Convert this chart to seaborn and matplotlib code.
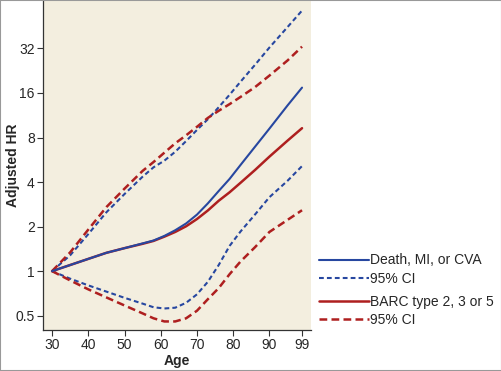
import pandas as pd
import seaborn as sns
import matplotlib.pyplot as plt
from matplotlib.lines import Line2D

ages = [30, 35, 40, 45, 50, 55, 58, 61, 64, 67, 70, 73, 76, 79, 82, 86, 90, 95, 99]

# Death, MI, or CVA
death_hr = [1.00, 1.10, 1.21, 1.33, 1.43, 1.54, 1.61, 1.73, 1.89, 2.10, 2.41, 2.87,
            3.48, 4.20, 5.21, 6.92, 9.19, 13.18, 17.39]
death_hi = [1.00, 1.28, 1.78, 2.50, 3.32, 4.35, 5.03, 5.58, 6.41, 7.57, 9.00, 10.63,
            12.82, 15.56, 19.03, 24.76, 32.45, 44.63, 57.68]
death_lo = [1.00, 0.889, 0.801, 0.727, 0.660, 0.603, 0.570, 0.559, 0.566, 0.611, 0.697,
            0.847, 1.10, 1.48, 1.85, 2.41, 3.16, 4.08, 5.13]

# BARC type 2, 3 or 5
barc_hr = [1.00, 1.10, 1.21, 1.33, 1.43, 1.53, 1.60, 1.71, 1.84, 2.01, 2.25, 2.57,
           2.99, 3.41, 3.95, 4.82, 5.94, 7.62, 9.25]
barc_hi = [1.00, 1.34, 1.91, 2.71, 3.61, 4.76, 5.46, 6.32, 7.31, 8.28, 9.45, 10.85,
           12.13, 13.45, 15.03, 17.51, 20.97, 26.54, 32.90]
barc_lo = [1.00, 0.865, 0.753, 0.664, 0.586, 0.518, 0.480, 0.457, 0.457, 0.480, 0.540,
           0.646, 0.768, 0.953, 1.16, 1.45, 1.84, 2.22, 2.58]

x_ticks = [30, 40, 50, 60, 70, 80, 90, 99]
y_ticks = [0.5, 1, 2, 4, 8, 16, 32]
y_tick_labels = ["0.5", "1", "2", "4", "8", "16", "32"]

BLUE = "#2747a0"
RED = "#ae1f1f"
BLUE_DASH = (0, (2.3, 1.5))
RED_DASH = (0, (3.1, 1.7))


def main():
    sns.set_theme(style="ticks")
    plt.rcParams["font.family"] = ["Liberation Sans", "DejaVu Sans"]

    fig = plt.figure(figsize=(5.02, 3.71), dpi=100)
    ax = fig.add_axes([0.0857, 0.1105, 0.534, 0.8895])
    ax.set_facecolor("#f3eedf")

    df = pd.DataFrame({
        "Age": ages,
        "death_hr": death_hr, "death_hi": death_hi, "death_lo": death_lo,
        "barc_hr": barc_hr, "barc_hi": barc_hi, "barc_lo": barc_lo,
    })

    # CI curves first, main estimates on top
    for col in ["death_hi", "death_lo"]:
        sns.lineplot(data=df, x="Age", y=col, ax=ax, color=BLUE, lw=1.5,
                     linestyle=BLUE_DASH)
    for col in ["barc_hi", "barc_lo"]:
        sns.lineplot(data=df, x="Age", y=col, ax=ax, color=RED, lw=1.8,
                     linestyle=RED_DASH)
    sns.lineplot(data=df, x="Age", y="barc_hr", ax=ax, color=RED, lw=1.8)
    sns.lineplot(data=df, x="Age", y="death_hr", ax=ax, color=BLUE, lw=1.5)

    ax.set_yscale("log", base=2)
    ax.set_ylim(0.40, 68)
    ax.set_xlim(27.5, 101.5)
    ax.set_yticks(y_ticks)
    ax.set_yticklabels(y_tick_labels)
    ax.minorticks_off()
    ax.set_xticks(x_ticks)
    ax.set_xticklabels([str(t) for t in x_ticks])
    ax.tick_params(labelsize=10, length=4, width=0.8, color="#333333", pad=2)

    ax.set_xlabel("Age", fontsize=10, fontweight="bold", labelpad=1)
    ax.set_ylabel("Adjusted HR", fontsize=10, fontweight="bold")
    ax.yaxis.set_label_coords(-0.086, 0.5)

    for s in ["top", "right"]:
        ax.spines[s].set_visible(False)
    for s in ["left", "bottom"]:
        ax.spines[s].set_color("#333333")
        ax.spines[s].set_linewidth(0.9)

    # legend, in two groups
    h1 = [Line2D([], [], color=BLUE, lw=1.5),
          Line2D([], [], color=BLUE, lw=1.5, linestyle=BLUE_DASH)]
    h2 = [Line2D([], [], color=RED, lw=1.8),
          Line2D([], [], color=RED, lw=1.8, linestyle=RED_DASH)]
    leg_kw = dict(frameon=False, fontsize=10, handlelength=3.6,
                  handletextpad=0.1, labelspacing=0.3, borderaxespad=0)
    fig.legend(h1, ["Death, MI, or CVA", "95% CI"], loc="upper left",
               bbox_to_anchor=(0.624, 0.332), **leg_kw)
    fig.legend(h2, ["BARC type 2, 3 or 5", "95% CI"], loc="upper left",
               bbox_to_anchor=(0.624, 0.221), **leg_kw)

    # thin grey frame around the figure
    fig.patches.append(plt.Rectangle((0, 0), 1, 1, transform=fig.transFigure,
                                     fill=False, edgecolor="#999999", lw=1.5))

    plt.savefig("out.png", dpi=100)


if __name__ == "__main__":
    main()
